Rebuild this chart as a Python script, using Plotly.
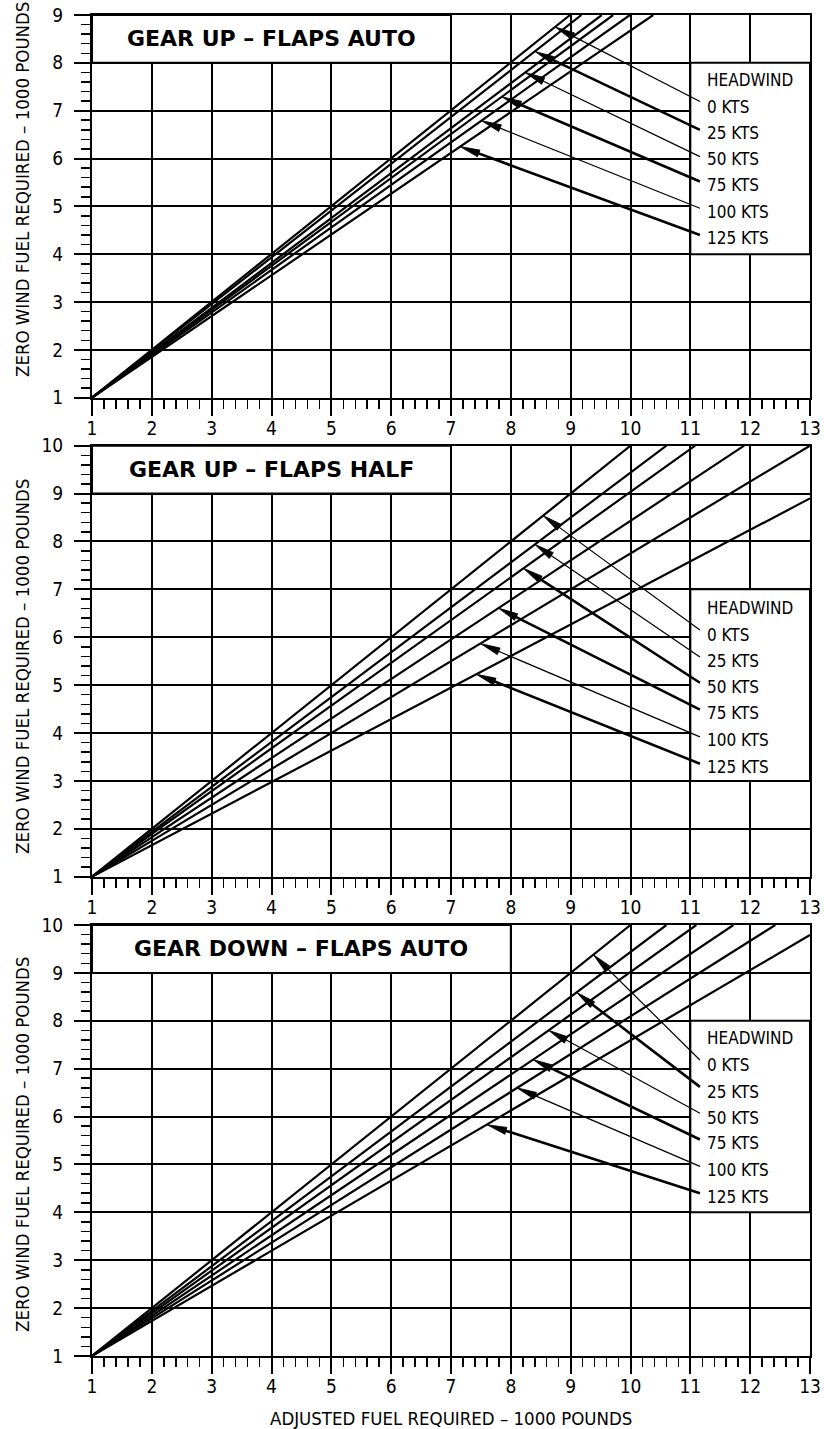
import math
import plotly.graph_objects as go

# ---------------- data ----------------
x_range = [1, 13]
y_ranges = [[1, 9], [1, 10], [1, 10]]
x_tick_labels = [str(v) for v in range(1, 14)]

panel_titles = ["GEAR UP \u2013 FLAPS AUTO", "GEAR UP \u2013 FLAPS HALF", "GEAR DOWN \u2013 FLAPS AUTO"]
headwind_labels = ["0 KTS", "25 KTS", "50 KTS", "75 KTS", "100 KTS", "125 KTS"]
legend_title = "HEADWIND"
y_title = "ZERO WIND FUEL REQUIRED \u2013 1000 POUNDS"
x_title = "ADJUSTED FUEL REQUIRED \u2013 1000 POUNDS"

# every headwind line starts at (1, 1) and leaves the grid at (end_x, end_y)
start_x = 1
start_y = 1
p1_end_x = [8.99, 9.18, 9.52, 9.71, 9.99, 10.38]
p1_end_y = [9, 9, 9, 9, 9, 9]
p2_end_x = [10.0, 10.6, 11.08, 11.9, 13.0, 13.0]
p2_end_y = [10, 10, 10, 10, 10, 8.9]
p3_end_x = [10.0, 10.6, 11.1, 11.72, 12.42, 13.0]
p3_end_y = [10, 10, 10, 10, 10, 9.79]

# arrow tips (points on the lines)
p1_tip_x = [8.74, 8.40, 8.24, 7.85, 7.51, 7.15]
p1_tip_y = [8.75, 8.24, 7.80, 7.29, 6.79, 6.25]
p2_tip_x = [8.54, 8.40, 8.21, 7.79, 7.49, 7.42]
p2_tip_y = [8.54, 7.94, 7.44, 6.61, 5.87, 5.23]
p3_tip_x = [9.38, 9.10, 8.63, 8.37, 8.10, 7.60]
p3_tip_y = [9.38, 8.59, 7.80, 7.19, 6.60, 5.83]

# ---------------- layout / style ----------------
W, H = 824, 1429
X_LEFT_PX, X_RIGHT_PX = 92, 810
PANEL_PX = [(15, 397.7), (445.7, 876.7), (925, 1356)]

title_boxes = [(1, 7, 8, 9), (1, 7, 9, 10), (1, 8, 9, 10)]
legend_boxes = [(11, 13, 4, 8), (11, 13, 3, 7), (11, 13, 4, 8)]
label_x = 11.25
tail_x = 11.16
legend_head_y = [7.64, 6.61, 7.64]
label_y = [[7.08, 6.53, 5.99, 5.45, 4.88, 4.34],
           [6.05, 5.50, 4.96, 4.42, 3.85, 3.29],
           [7.08, 6.51, 5.97, 5.45, 4.89, 4.32]]
tail_y = [[7.19, 6.60, 6.04, 5.52, 4.96, 4.40],
          [6.15, 5.59, 5.05, 4.49, 3.92, 3.36],
          [7.18, 6.62, 6.07, 5.52, 4.96, 4.40]]
arrow_w = [[1.2, 2.6, 1.2, 2.6, 1.2, 2.6],
           [1.2, 1.2, 2.6, 2.6, 1.2, 2.6],
           [1.2, 2.6, 1.2, 2.6, 1.2, 2.6]]
ytitle_center_px = [190, 667, 1145]
ytitle_x_px = 22
xtitle_px = (451, 1418)

NARROW = "DejaVu Sans Condensed, Liberation Sans Narrow, Liberation Sans, sans-serif"
TITLE_FONT = dict(family="DejaVu Sans", size=22, color="black", weight="bold")
LABEL_SIZE = 17
AXTITLE_SIZE = 18.5
HEAD_LEN, HEAD_HALF = 20, 3.6

ends_x = [p1_end_x, p2_end_x, p3_end_x]
ends_y = [p1_end_y, p2_end_y, p3_end_y]
tips_x = [p1_tip_x, p2_tip_x, p3_tip_x]
tips_y = [p1_tip_y, p2_tip_y, p3_tip_y]

fig = go.Figure()
shapes = []
annotations = []
layout_axes = {}

for i in range(3):
    n = "" if i == 0 else str(i + 1)
    xa, ya = "x" + n, "y" + n
    top_px, bot_px = PANEL_PX[i]
    sx = (X_RIGHT_PX - X_LEFT_PX) / (x_range[1] - x_range[0])
    sy = (bot_px - top_px) / (y_ranges[i][1] - y_ranges[i][0])

    common = dict(
        showgrid=True, gridcolor="black", gridwidth=2,
        showline=True, mirror=True, linecolor="black", linewidth=2,
        zeroline=False, ticks="outside", ticklen=16, tickwidth=2, tickcolor="black",
        dtick=1, tick0=1, automargin=False, ticklabeloverflow="allow",
        tickfont=dict(family=NARROW, size=19, color="black"),
        minor=dict(dtick=0.2, tick0=1, ticks="outside", ticklen=9, tickwidth=1.5,
                   tickcolor="black", showgrid=False),
    )
    layout_axes["xaxis" + n] = dict(
        domain=[X_LEFT_PX / W, X_RIGHT_PX / W], range=x_range, anchor=ya,
        tickvals=list(range(1, 14)), ticktext=x_tick_labels, ticklabelstandoff=-4,
        **common)
    layout_axes["yaxis" + n] = dict(
        domain=[1 - bot_px / H, 1 - top_px / H], range=y_ranges[i], anchor=xa,
        ticklabelstandoff=7, **common)

    # headwind lines
    for k in range(6):
        fig.add_trace(go.Scatter(
            x=[start_x, ends_x[i][k]], y=[start_y, ends_y[i][k]],
            mode="lines", line=dict(color="black", width=2.2),
            xaxis=xa, yaxis=ya, showlegend=False, hoverinfo="skip"))

    # boxes
    for (x0, x1, y0, y1) in (title_boxes[i], legend_boxes[i]):
        shapes.append(dict(type="rect", xref=xa, yref=ya, x0=x0, x1=x1, y0=y0, y1=y1,
                           fillcolor="white", line=dict(color="black", width=2),
                           layer="between"))

    # arrows
    for k in range(6):
        tx, ty = tail_x, tail_y[i][k]
        hx, hy = tips_x[i][k], tips_y[i][k]
        dx, dy = (hx - tx) * sx, (hy - ty) * sy
        L = math.hypot(dx, dy)
        ux, uy = dx / L, dy / L
        nx, ny = -uy, ux
        bx, by = hx - HEAD_LEN * ux / sx, hy - HEAD_LEN * uy / sy
        cx = [hx, bx + HEAD_HALF * nx / sx, bx - HEAD_HALF * nx / sx, hx]
        cy = [hy, by + HEAD_HALF * ny / sy, by - HEAD_HALF * ny / sy, hy]
        mx, my = hx - 0.7 * HEAD_LEN * ux / sx, hy - 0.7 * HEAD_LEN * uy / sy
        fig.add_trace(go.Scatter(
            x=[tx, mx], y=[ty, my], mode="lines",
            line=dict(color="black", width=arrow_w[i][k]),
            xaxis=xa, yaxis=ya, showlegend=False, hoverinfo="skip"))
        fig.add_trace(go.Scatter(
            x=cx, y=cy, mode="lines", fill="toself", fillcolor="black",
            line=dict(color="black", width=0.8),
            xaxis=xa, yaxis=ya, showlegend=False, hoverinfo="skip"))
        annotations.append(dict(
            xref=xa, yref=ya, x=label_x, y=label_y[i][k], text=headwind_labels[k],
            showarrow=False, xanchor="left", yanchor="middle",
            font=dict(family=NARROW, size=LABEL_SIZE, color="black")))

    annotations.append(dict(
        xref=xa, yref=ya, x=label_x, y=legend_head_y[i], text=legend_title,
        showarrow=False, xanchor="left", yanchor="middle",
        font=dict(family=NARROW, size=LABEL_SIZE, color="black")))

    tb = title_boxes[i]
    annotations.append(dict(
        xref=xa, yref=ya, x=(tb[0] + tb[1]) / 2, y=(tb[2] + tb[3]) / 2,
        text=panel_titles[i], showarrow=False, xanchor="center", yanchor="middle",
        font=TITLE_FONT))

    annotations.append(dict(
        xref="paper", yref="paper", x=ytitle_x_px / W, y=1 - ytitle_center_px[i] / H,
        text=y_title, textangle=-90, showarrow=False, xanchor="center", yanchor="middle",
        font=dict(family=NARROW, size=AXTITLE_SIZE, color="black")))

annotations.append(dict(
    xref="paper", yref="paper", x=xtitle_px[0] / W, y=1 - xtitle_px[1] / H, text=x_title,
    showarrow=False, xanchor="center", yanchor="middle",
    font=dict(family=NARROW, size=AXTITLE_SIZE, color="black")))

fig.update_layout(
    width=W, height=H, margin=dict(l=0, r=0, t=0, b=0, autoexpand=False),
    paper_bgcolor="white", plot_bgcolor="white",
    shapes=shapes, annotations=annotations, showlegend=False,
    **layout_axes)

# remove the page's default body margin so the figure sits at the window origin
fig.write_html("out.html",
               config={"displayModeBar": False, "staticPlot": True},
               post_script="document.body.style.margin='0';document.body.style.overflow='hidden';")
